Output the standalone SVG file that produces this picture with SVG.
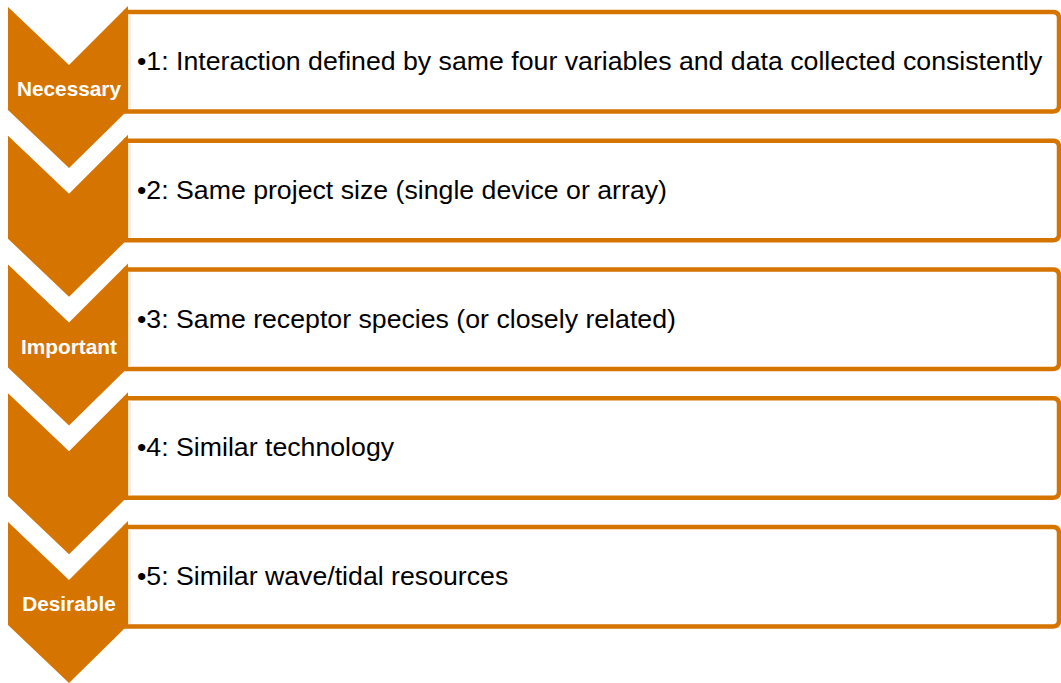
<svg xmlns="http://www.w3.org/2000/svg" width="1061" height="683" viewBox="0 0 1061 683">
  <style>
    .chev { fill: #D67400; }
    .box { fill: #FFFFFF; stroke: #D67400; stroke-width: 4.5; }
    .edge { fill: #FBEEE2; }
    .item { font-family: "Liberation Sans", Arial, sans-serif; font-size: 26.7px; fill: #000000; }
    .tag { font-family: "Liberation Sans", Arial, sans-serif; font-size: 20.8px; font-weight: bold; fill: #FFFFFF; text-anchor: middle; }
  </style>
  <defs>
    <!-- downward chevron step and its text box, drawn once per level -->
    <path id="chevShape" d="M8,7 L69,65 L128,6 L128,110 L69,168 L8,110 Z"/>
    <path id="boxShape" d="M126,12 H1053 Q1059,12 1059,18 V105.5 Q1059,111.5 1053,111.5 H126 Z"/>
  </defs>
  <rect width="1061" height="683" fill="#FFFFFF"/>

  <g id="step1">
    <use href="#chevShape" class="chev"/>
    <use href="#boxShape" class="box"/>
    <rect class="edge" x="128.5" y="14.5" width="2.5" height="94.5"/>
    <text class="item" x="137" y="70">•1: Interaction defined by same four variables and data collected consistently</text>
    <text class="tag" x="69" y="96">Necessary</text>
  </g>

  <g id="step2" transform="translate(0,128.75)">
    <use href="#chevShape" class="chev"/>
    <use href="#boxShape" class="box"/>
    <rect class="edge" x="128.5" y="14.5" width="2.5" height="94.5"/>
    <text class="item" x="137" y="70">•2: Same project size (single device or array)</text>
  </g>

  <g id="step3" transform="translate(0,257.5)">
    <use href="#chevShape" class="chev"/>
    <use href="#boxShape" class="box"/>
    <rect class="edge" x="128.5" y="14.5" width="2.5" height="94.5"/>
    <text class="item" x="137" y="70">•3: Same receptor species (or closely related)</text>
    <text class="tag" x="69" y="96">Important</text>
  </g>

  <g id="step4" transform="translate(0,386.25)">
    <use href="#chevShape" class="chev"/>
    <use href="#boxShape" class="box"/>
    <rect class="edge" x="128.5" y="14.5" width="2.5" height="94.5"/>
    <text class="item" x="137" y="70">•4: Similar technology</text>
  </g>

  <g id="step5" transform="translate(0,515)">
    <use href="#chevShape" class="chev"/>
    <use href="#boxShape" class="box"/>
    <rect class="edge" x="128.5" y="14.5" width="2.5" height="94.5"/>
    <text class="item" x="137" y="70">•5: Similar wave/tidal resources</text>
    <text class="tag" x="69" y="96">Desirable</text>
  </g>

  <g id="connectors"></g>
</svg>
